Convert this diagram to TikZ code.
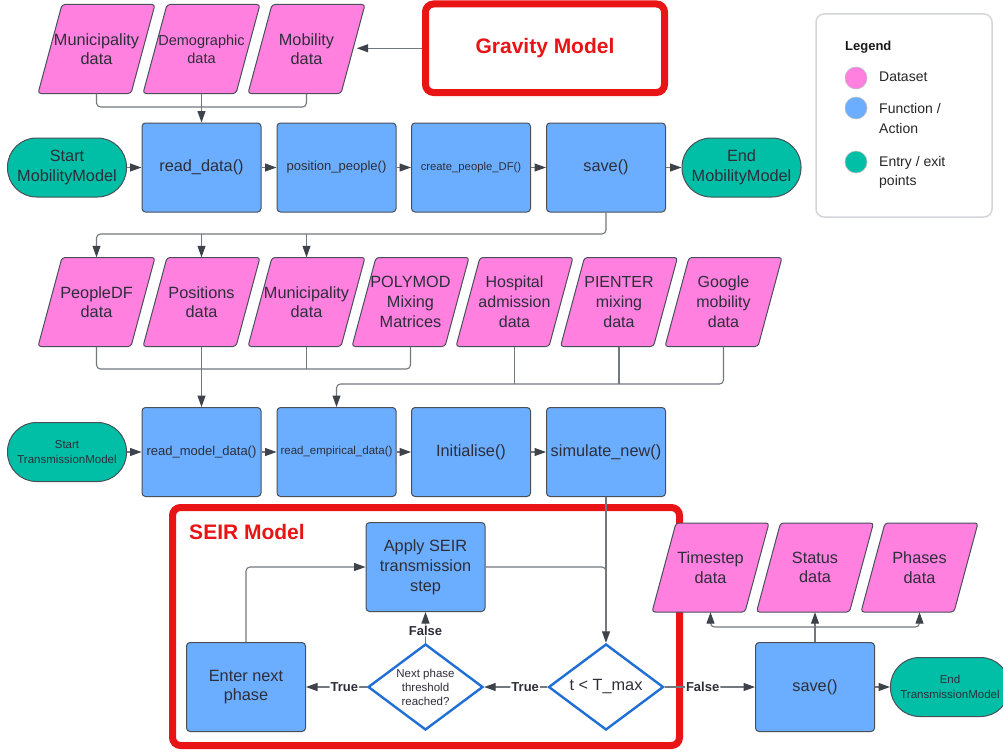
\documentclass[tikz,border=0pt]{standalone}
\usepackage{fontspec}
\setmainfont{Liberation Sans}
\usetikzlibrary{arrows.meta,shapes.geometric,calc}
\definecolor{pinkc}{HTML}{FF80DF}
\definecolor{bluec}{HTML}{6BAEFF}
\definecolor{tealc}{HTML}{00BFA6}
\definecolor{bordc}{HTML}{4A4F58}
\definecolor{linec}{HTML}{73777E}
\definecolor{arrc}{HTML}{3E434B}
\definecolor{txtc}{HTML}{2E2E3A}
\definecolor{redc}{HTML}{E81416}
\definecolor{diac}{HTML}{1F6FD6}
\definecolor{legc}{HTML}{D3D6DB}
\newcommand\fsz[2]{\fontsize{#1}{#2}\selectfont}
\newcommand\datapara[5]{%
  \path[paraf] (#2-58.5,#3+44.5) -- (#2+34.5,#3+44.5) -- (#2+58.5,#3-44.5) -- (#2-34.5,#3-44.5) -- cycle;
  \node[datanode,#4] (#1) at (#2,#3) {#5};}
\begin{document}
\begin{tikzpicture}[x=1pt,y=-1pt,
 every node/.style={text=txtc, font=\fsz{16.3}{19.5}},
 funcbox/.style={draw=bordc, fill=bluec, line width=1pt, rounded corners=3.5pt, minimum width=119pt, minimum height=89pt, inner sep=1pt, align=center},
 termnode/.style={draw=bordc, fill=tealc, line width=1pt, rounded corners=29pt, minimum width=119pt, minimum height=59pt, inner sep=1pt, align=center},
 datanode/.style={minimum width=93pt, minimum height=89pt, inner sep=0pt, align=center},
 paraf/.style={draw=bordc, fill=pinkc, line width=1pt, rounded corners=3pt},
 decis/.style={diamond, draw=diac, fill=white, line width=2.4pt, minimum width=115pt, minimum height=86pt, aspect=1.33, inner sep=0pt, align=center},
 conn/.style={draw=linec, line width=1.1pt, rounded corners=4pt},
 arr/.style={-{Triangle[length=11.5pt,width=8pt,color=arrc]}},
 lbl/.style={fill=white, inner sep=1pt, font=\bfseries\fsz{13}{15}, text=txtc},
 redbox/.style={draw=redc, line width=7pt, rounded corners=8pt},
 legdot/.style={circle, minimum size=22pt, inner sep=0pt, draw=black!25, line width=0.6pt},
 legtxt/.style={anchor=west, align=left, inner sep=0pt, font=\fsz{14}{19.5}, text=black!85},
]
\useasboundingbox (0,0) rectangle (1003,752);
\fill[white] (0,0) rectangle (1003,752);

% frames
\node[redbox, minimum width=239pt, minimum height=88.5pt, font=\bfseries\fsz{21}{25}, text=redc] (grav) at (545,48.25) {Gravity Model};
\node[redbox, minimum width=507pt, minimum height=238pt] (seir) at (426,626.5) {};
\node[font=\bfseries\fsz{21}{25}, text=redc, inner sep=0pt] (seirt) at (247,532) {SEIR Model};

% legend
\node[draw=legc, line width=1.5pt, rounded corners=8pt, minimum width=176pt, minimum height=203pt] (leg) at (904,115.5) {};
\node[anchor=west, inner sep=0pt, font=\bfseries\fsz{13}{15}, text=black!90] (legt) at (845,47) {Legend};
\node[legdot, fill=pinkc] (ld1) at (856,78) {};
\node[legdot, fill=bluec] (ld2) at (856,108) {};
\node[legdot, fill=tealc] (ld3) at (856,162) {};
\node[legtxt] (lt1) at (879,77) {Dataset};
\node[legtxt, font=\fsz{14}{20}] (lt2) at (879,118) {Function /\\Action};
\node[legtxt] (lt3) at (879,172.5) {Entry / exit\\points};

% row 1 datasets
\datapara{muni1}{96.5}{49}{}{Municipality\\data}
\datapara{demo}{201.5}{49}{font=\fsz{14.5}{18}}{Demographic\\data}
\datapara{mob}{306.5}{49}{}{Mobility\\data}

% row 2
\node[termnode] (st1) at (67,167.5) {Start\\MobilityModel};
\node[funcbox] (read) at (201.5,167.5) {read\_data()};
\node[funcbox, font=\fsz{13}{15}] (posp) at (336.5,167.5) {position\_people()};
\node[funcbox, font=\fsz{11.3}{13}] (crea) at (471,167.5) {create\_people\_DF()};
\node[funcbox] (sav1) at (606,167.5) {save()};
\node[termnode] (en1) at (741.5,167.5) {End\\MobilityModel};

% row 3 datasets
\datapara{pdf}{96.5}{302}{}{PeopleDF\\data}
\datapara{posd}{201.5}{302}{}{Positions\\data}
\datapara{muni2}{306.5}{302}{}{Municipality\\data}
\datapara{poly}{410.5}{302}{font=\fsz{16.3}{20}}{POLYMOD\\Mixing\\Matrices}
\datapara{hosp}{514.5}{302}{font=\fsz{16}{20}}{Hospital\\admission\\data}
\datapara{pien}{619}{302}{font=\fsz{16}{20}}{PIENTER\\mixing\\data}
\datapara{goog}{723.5}{302}{font=\fsz{16}{20}}{Google\\mobility\\data}

% row 4
\node[termnode, font=\fsz{11.5}{15}] (st2) at (67,452) {Start\\TransmissionModel};
\node[funcbox, font=\fsz{13}{15}] (rmd) at (201.5,452) {read\_model\_data()};
\node[funcbox, font=\fsz{11.5}{14}] (remp) at (336.5,452) {read\_empirical\_data()};
\node[funcbox] (init) at (471,452) {Initialise()};
\node[funcbox] (sim) at (606,452) {simulate\_new()};

% SEIR part
\node[funcbox, font=\fsz{16.3}{20}] (apply) at (425.5,567) {Apply SEIR\\transmission\\step};
\node[funcbox] (enter) at (246,687) {Enter next\\phase};
\node[decis, font=\fsz{11.5}{14}] (nph) at (425.5,687) {Next phase\\threshold\\reached?};
\node[decis] (tmax) at (606,687) {t < T\_max};
\node[funcbox] (sav2) at (815,687) {save()};
\node[termnode, font=\fsz{11.5}{15}] (en2) at (950,687) {End\\TransmissionModel};

% output datasets
\datapara{tsd}{710.5}{567.5}{}{Timestep\\data}
\datapara{std}{815}{567.5}{}{Status\\data}
\datapara{phd}{919.5}{567.5}{}{Phases\\data}

% connectors top
\coordinate (bus1) at (0,107);
\draw[conn] (muni1.south) |- (demo.south |- bus1) -| (mob.south);
\draw[conn,arr] (demo.south) -- (read.north);
\draw[conn,arr] (grav.west) -- ($(grav.west -| mob.east)+(3.5,0)$);

\draw[conn,arr] (st1.east) -- (read.west);
\draw[conn,arr] (read.east) -- (posp.west);
\draw[conn,arr] (posp.east) -- (crea.west);
\draw[conn,arr] (crea.east) -- (sav1.west);
\draw[conn,arr] (sav1.east) -- (en1.west);

\coordinate (bus2) at (0,234);
\draw[conn,arr] (sav1.south) -- (sav1.south |- bus2) -| (pdf.north);
\draw[conn,arr] (posd.north |- bus2) -- (posd.north);
\draw[conn,arr] (muni2.north |- bus2) -- (muni2.north);

\coordinate (bus3) at (0,369);
\draw[conn] (pdf.south) |- (posd.south |- bus3) -| (poly.south);
\draw[conn] (muni2.south) -- (muni2.south |- bus3);
\draw[conn,arr] (posd.south) -- (rmd.north);

\coordinate (bus4) at (0,384);
\draw[conn,arr] (goog.south) |- (remp.north |- bus4) -- (remp.north);
\draw[conn] (hosp.south) -- (hosp.south |- bus4);
\draw[conn] (pien.south) -- (pien.south |- bus4);

\draw[conn,arr] (st2.east) -- (rmd.west);
\draw[conn,arr] (rmd.east) -- (remp.west);
\draw[conn,arr] (remp.east) -- (init.west);
\draw[conn,arr] (init.east) -- (sim.west);

% SEIR loop
\draw[conn,arr] (sim.south) -- (tmax.north);
\draw[conn] (apply.east) -| ($(tmax.north)+(0,-30)$);
\draw[conn,arr] (tmax.west) -- node[lbl,pos=0.35]{True} (nph.east);
\draw[conn,arr] (nph.west) -- node[lbl,pos=0.37]{True} (enter.east);
\draw[conn,arr] (nph.north) -- node[lbl,pos=0.4]{False} (apply.south);
\draw[conn,arr] (enter.north) |- (apply.west);
\draw[conn,arr] (tmax.east) -- node[lbl,pos=0.42]{False} (sav2.west);
\draw[conn,arr] (sav2.east) -- (en2.west);

\coordinate (bus5) at (0,627);
\draw[conn,arr] (sav2.north) -- (std.south);
\draw[conn,arr] (sav2.north |- bus5) -| (tsd.south);
\draw[conn,arr] (sav2.north |- bus5) -| (phd.south);
\end{tikzpicture}
\end{document}
